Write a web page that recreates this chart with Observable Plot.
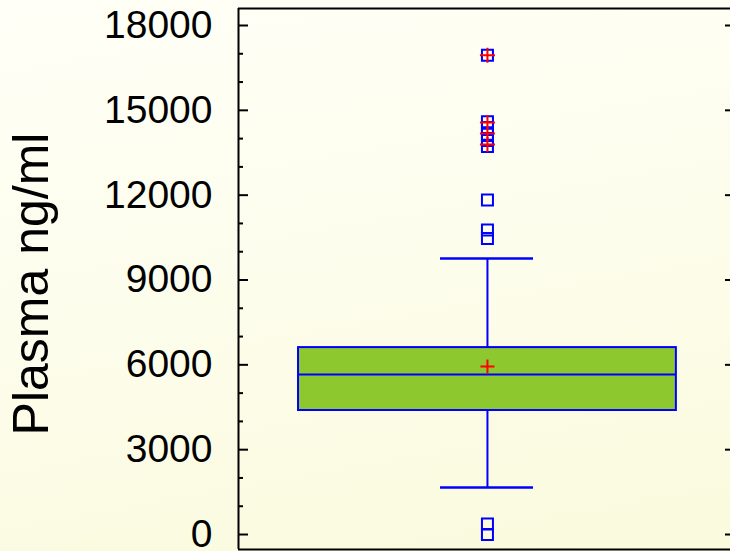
<!DOCTYPE html>
<html>
<head>
<meta charset="utf-8">
<script src="https://cdn.jsdelivr.net/npm/d3@7"></script>
<script src="https://cdn.jsdelivr.net/npm/@observablehq/plot@0.6"></script>
<style>
  html, body { margin: 0; padding: 0; }
  body { width: 730px; height: 551px; overflow: hidden;
         background: linear-gradient(170deg, #fffff7 0%, #fdfdec 50%, #fafadd 100%); }
  svg { display: block; }
</style>
</head>
<body>
<div id="chart"></div>
<script>
// ---- data ----
const yTicks = [0, 3000, 6000, 9000, 12000, 15000, 18000];
const yMinorTicks = [1000, 2000, 4000, 5000, 7000, 8000, 10000, 11000, 13000, 14000, 16000, 17000];
const boxStats = [{ lo: 1660, q1: 4385, median: 5660, q3: 6610, hi: 9760, mean: 5940 }];
const outliers = [16950, 14600, 14390, 14150, 13930, 13720, 11830, 10770, 10470, 370, 0];
const farOutliers = [16950, 14570, 14180, 13790];
const yLabel = "Plasma ng/ml";

// ---- style / layout ----
const blue = "#0000ff", red = "#ff0000", green = "#8dc92e";
const yMin = -530, yMax = 18601;
const W = 492; // inner width px (right frame edge lies at the picture's edge)
const cx = 0.506, boxL = 0.122, boxR = 0.890, capL = 0.4106, capR = 0.5996;
const font = "'Liberation Sans', Arial, Helvetica, sans-serif";

const plusSymbol = {
  draw(ctx, size) {
    const r = Math.sqrt(size / Math.PI);
    ctx.moveTo(-r, 0); ctx.lineTo(r, 0);
    ctx.moveTo(0, -r); ctx.lineTo(0, r);
  }
};

const chart = Plot.plot({
  width: 730, height: 551,
  marginLeft: 238, marginRight: 0, marginTop: 8, marginBottom: 2,
  x: { domain: [0, 1], axis: null },
  y: { domain: [yMin, yMax] },
  style: { background: "transparent", fontFamily: font, color: "black", overflow: "visible" },
  marks: [
    // whiskers
    Plot.ruleX(boxStats, { x: cx, y1: "q3", y2: "hi", stroke: blue, strokeWidth: 2 }),
    Plot.ruleX(boxStats, { x: cx, y1: "lo", y2: "q1", stroke: blue, strokeWidth: 2 }),
    Plot.ruleY(boxStats, { y: "hi", x1: capL, x2: capR, stroke: blue, strokeWidth: 2.5 }),
    Plot.ruleY(boxStats, { y: "lo", x1: capL, x2: capR, stroke: blue, strokeWidth: 2.5 }),
    // box
    Plot.rect(boxStats, { x1: boxL, x2: boxR, y1: "q1", y2: "q3", fill: green, stroke: blue, strokeWidth: 2 }),
    Plot.ruleY(boxStats, { y: "median", x1: boxL, x2: boxR, stroke: blue, strokeWidth: 2 }),
    // mean
    Plot.dot(boxStats, { x: cx, y: "mean", symbol: plusSymbol, r: 7, stroke: red, strokeWidth: 2 }),
    // outliers
    Plot.dot(outliers, { x: cx, y: d => d, symbol: "square", r: 6.2, stroke: blue, strokeWidth: 2, fill: "none" }),
    Plot.dot(farOutliers, { x: cx, y: d => d, symbol: plusSymbol, r: 7.5, stroke: red, strokeWidth: 2 }),
    // axis ticks (inward)
    Plot.ruleY(yTicks, { y: d => d, x1: 0, x2: 10 / W, stroke: "black", strokeWidth: 2 }),
    Plot.ruleY(yMinorTicks, { y: d => d, x1: 0, x2: 5 / W, stroke: "black", strokeWidth: 2 }),
    Plot.ruleY(yTicks, { y: d => d, x1: 1 - 5 / W, x2: 1, stroke: "black", strokeWidth: 2 }),
    Plot.axisY({ ticks: yTicks, tickSize: 0, tickPadding: 26, fontSize: 39, tickFormat: d => String(d), label: null }),
    // frame: left, top, bottom (right edge lies outside the picture)
    Plot.ruleX([0], { x: d => d, y1: yMin, y2: yMax, stroke: "black", strokeWidth: 2 }),
    Plot.ruleY([yMin, yMax], { y: d => d, x1: 0, x2: 1, stroke: "black", strokeWidth: 2 }),
    Plot.text([yLabel], { text: d => d, frameAnchor: "left", rotate: -90, dx: -207, dy: 5,
      fontSize: 50, textAnchor: "middle", lineAnchor: "middle", fill: "black" })
  ]
});
document.getElementById("chart").appendChild(chart);
</script>
</body>
</html>
